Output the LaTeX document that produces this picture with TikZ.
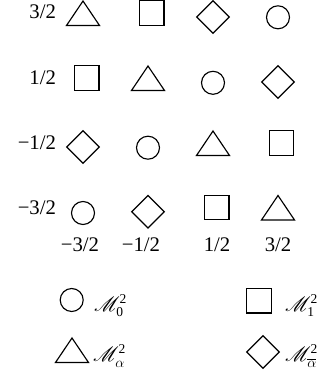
\documentclass[tikz,border=0pt]{standalone}
\usepackage{amsmath}
\usepackage{mathrsfs}
\usepackage{fontspec}
\setmainfont{Liberation Serif}
\DeclareMathSizes{20.74}{20.74}{13.5}{10}
\usetikzlibrary{shapes.geometric}
\newcommand\lowsub[1]{\raisebox{-1.8pt}{$\scriptstyle #1$}}
\begin{document}
\begin{tikzpicture}[x=1pt,y=-1pt,
  font=\fontsize{20.74}{25}\selectfont,
  shp/.style={draw, line width=1.15pt, inner sep=0pt, outer sep=0pt},
  circ/.style={shp, circle, minimum size=23pt},
  sq/.style={shp, rectangle, minimum size=24.5pt},
  dia/.style={shp, diamond, minimum size=32.5pt},
  tri/.pic={\draw[line width=1.15pt, line join=miter] (-16.5,8.5) -- (16.5,8.5) -- (0,-16) -- cycle;},
  lab/.style={inner sep=0pt, outer sep=0pt}]
\useasboundingbox (0,0) rectangle (323,372);
% row labels
\node[lab, anchor=base east] (r1) at (56,19) {3/2};
\node[lab, anchor=base east] (r2) at (56,84.5) {1/2};
\node[lab, anchor=base east] (r3) at (56,149.5) {−1/2};
\node[lab, anchor=base east] (r4) at (56,214.5) {−3/2};
% row 1: triangle, square, diamond, circle
\pic (t1) at (83,17) {tri};
\node[sq] (s1) at (151.7,13) {};
\node[dia] (d1) at (213,17) {};
\node[circ] (c1) at (278,17.3) {};
% row 2: square, triangle, circle, diamond
\node[sq] (s2) at (86.7,78) {};
\pic (t2) at (148,82) {tri};
\node[circ] (c2) at (213,82.8) {};
\node[dia] (d2) at (278,82) {};
% row 3: diamond, circle, triangle, square
\node[dia] (d3) at (83,147) {};
\node[circ] (c3) at (148,147.7) {};
\pic (t3) at (213,147) {tri};
\node[sq] (s3) at (281.5,143) {};
% row 4: circle, diamond, square, triangle
\node[circ] (c4) at (83,213) {};
\node[dia] (d4) at (148,211.7) {};
\node[sq] (s4) at (216.7,207.5) {};
\pic (t4) at (278,211.5) {tri};
% column labels
\node[lab, anchor=base] (k1) at (80,251) {−3/2};
\node[lab, anchor=base] (k2) at (141,251) {−1/2};
\node[lab, anchor=base] (k3) at (217,251) {1/2};
\node[lab, anchor=base] (k4) at (278,251) {3/2};
% legend
\node[circ] (lc) at (71.7,300) {};
\node[lab, anchor=base west] (lct) at (94,311) {$\mathscr{M}^{\text{2}}_{\text{0}}$};
\node[sq] (ls) at (259,300.8) {};
\node[lab, anchor=base west] (lst) at (285,311) {$\mathscr{M}^{\text{2}}_{\text{1}}$};
\pic (lt) at (72,354) {tri};
\node[lab, anchor=base west] (ltt) at (93,361) {$\mathscr{M}^{\text{2}}_{\lowsub{\alpha}}$};
\node[dia] (ld) at (263,352) {};
\node[lab, anchor=base west] (ldt) at (285,361) {$\mathscr{M}^{\text{2}}_{\lowsub{\overline{\alpha}}}$};
\end{tikzpicture}
\end{document}
